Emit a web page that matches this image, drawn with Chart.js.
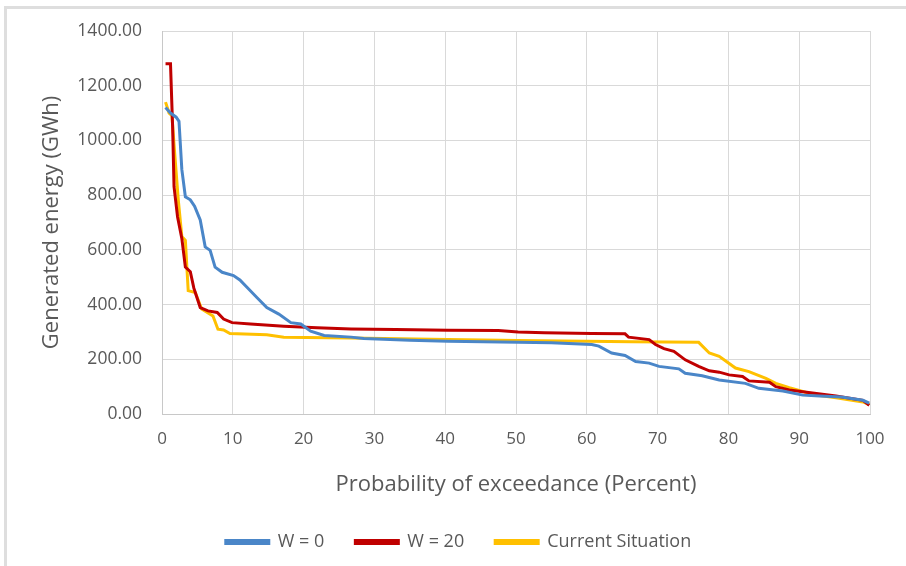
<!DOCTYPE html>
<html lang="en">
<head>
    <meta charset="UTF-8">
    <title>Generated energy</title>
    <script src="https://cdn.jsdelivr.net/npm/chart.js"></script>
    <style>
        html, body {
            margin: 0;
            padding: 0;
            background: #ffffff;
            overflow: hidden;
        }

        .frame {
            position: absolute;
            left: 4px;
            top: 6px;
            right: 0;
            bottom: 0;
            border-top: 3px solid #dedede;
            border-left: 3px solid #dedede;
        }

        .chart-container {
            position: absolute;
            left: 0;
            top: 0;
            width: 906px;
            height: 566px;
        }
    </style>
</head>
<body>

    <div class="frame"></div>
    <div class="chart-container">
        <canvas id="energyChart"></canvas>
    </div>

    <script>
        // Probability of exceedance (%) and generated energy (GWh)
        const w0X = [0.5, 1.2, 2.0, 2.4, 2.8, 3.3, 4.0, 4.6, 5.4, 6.1, 6.8, 7.5, 8.5, 10.1, 11.0, 12.0, 13.4, 14.8, 16.5, 18.2, 19.6, 21.0, 22.9, 26.7, 28.5, 35, 40.4, 50.3, 55, 60.7, 61.7, 63.5, 65.4, 66.9, 68.8, 70.2, 73.0, 73.9, 76.3, 78.7, 82.4, 84.3, 87.7, 90.5, 92.9, 96, 99, 99.9];
        const w0Y = [1120, 1100, 1085, 1070, 894, 794, 783, 760, 709, 611, 598, 537, 518, 506, 490, 463, 426, 389, 365, 334, 329, 303, 287, 281, 276, 270, 266, 262, 260, 254, 248, 223, 214, 192, 186, 174, 165, 149, 140, 124, 112, 94, 84, 69, 66, 62, 50, 40];

        const w20X = [0.5, 1.2, 1.5, 1.7, 2.2, 2.8, 3.3, 4.0, 4.5, 5.4, 6.5, 7.8, 8.7, 9.9, 12.5, 17.2, 21.9, 26.7, 33, 40.4, 47.5, 50.3, 54, 60.7, 65.4, 65.9, 68.8, 69.7, 70.9, 72.3, 73.9, 75.8, 77.3, 78.7, 80.1, 82, 82.9, 85.8, 86.7, 88.6, 90.5, 95.2, 99, 99.9];
        const w20Y = [1280, 1280, 1050, 831, 720, 642, 537, 520, 460, 389, 377, 371, 347, 334, 329, 321, 315, 311, 309, 306, 305, 300, 297, 294, 293, 281, 272, 254, 239, 229, 198, 174, 158, 153, 143, 137, 121, 116, 100, 88, 81, 66, 50, 32];

        const curX = [0.5, 1.0, 1.4, 1.8, 2.3, 2.8, 3.3, 3.7, 4.7, 5.6, 7.2, 7.9, 8.7, 9.6, 14.8, 17.2, 26.7, 40.4, 50.3, 66.4, 75.8, 77.3, 78.7, 81, 82.9, 85.3, 86.7, 88.6, 92.4, 95.2, 99, 99.9];
        const curY = [1140, 1100, 1091, 950, 783, 649, 635, 451, 444, 384, 358, 310, 307, 294, 290, 281, 278, 272, 269, 264, 262, 223, 211, 168, 155, 130, 112, 96, 69, 59, 44, 34];

        const seriesNames = ["W = 0", "W = 20", "Current Situation"];
        const seriesColors = ["#4A86C8", "#C00000", "#FFC000"];

        const toPoints = (xs, ys) => xs.map((x, i) => ({ x: x, y: ys[i] }));
        const allSeries = [toPoints(w0X, w0Y), toPoints(w20X, w20Y), toPoints(curX, curY)];

        const textColor = "#595959";
        const fontFamily = "'Open Sans', 'Noto Sans', sans-serif";

        const ctx = document.getElementById('energyChart').getContext('2d');
        new Chart(ctx, {
            type: 'line',
            data: {
                datasets: allSeries.map((pts, i) => ({
                    label: seriesNames[i],
                    data: pts,
                    borderColor: seriesColors[i],
                    backgroundColor: seriesColors[i],
                    borderWidth: 3,
                    pointRadius: 0,
                    tension: 0,
                    fill: false
                }))
            },
            options: {
                responsive: true,
                maintainAspectRatio: false,
                animation: false,
                layout: {
                    padding: { left: 47, top: 31, right: 36, bottom: 5 }
                },
                plugins: {
                    legend: {
                        position: 'bottom',
                        labels: {
                            color: textColor,
                            boxWidth: 43,
                            boxHeight: 3,
                            padding: 31,
                            font: { family: fontFamily, size: 18 }
                        }
                    },
                    tooltip: { enabled: false }
                },
                scales: {
                    x: {
                        type: 'linear',
                        min: 0,
                        max: 100,
                        afterFit: (scale) => { scale.height = 88; },
                        grid: { color: "#d9d9d9", drawTicks: false },
                        border: { color: "#c8c8c8", width: 1 },
                        ticks: {
                            stepSize: 10,
                            color: textColor,
                            padding: 15,
                            font: { family: fontFamily, size: 17 }
                        },
                        title: {
                            display: true,
                            text: "Probability of exceedance (Percent)",
                            color: textColor,
                            padding: { top: 0, bottom: 4 },
                            font: { family: fontFamily, size: 22 }
                        }
                    },
                    y: {
                        min: 0,
                        max: 1400,
                        afterFit: (scale) => { scale.width = 115; },
                        grid: { color: "#d9d9d9", drawTicks: false },
                        border: { color: "#c8c8c8", width: 1 },
                        ticks: {
                            stepSize: 200,
                            color: textColor,
                            padding: 20,
                            font: { family: fontFamily, size: 17.5 },
                            callback: (v) => v.toFixed(2)
                        },
                        title: {
                            display: true,
                            text: "Generated energy (GWh)",
                            color: textColor,
                            padding: { top: -8, bottom: 0 },
                            font: { family: fontFamily, size: 22 }
                        }
                    }
                }
            }
        });
    </script>

</body>
</html>
